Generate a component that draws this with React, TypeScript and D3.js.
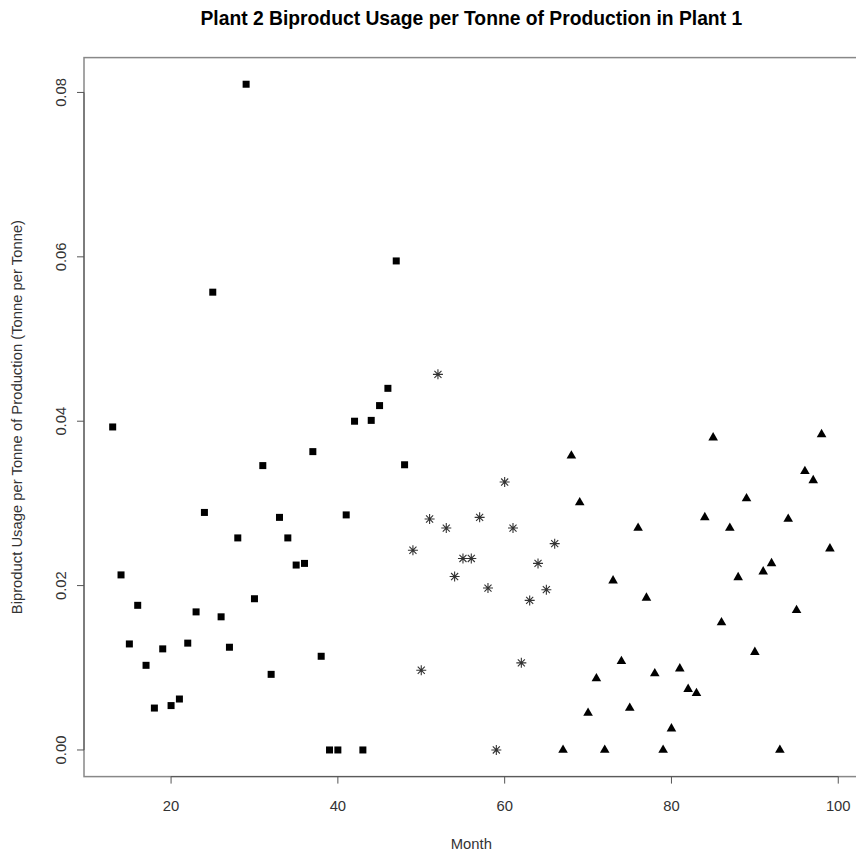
import React, { useEffect, useRef } from 'react';
import * as d3 from 'd3';

// months 13-48: squares
const squareMonths = d3.range(13, 49);
const squareValues = [
  0.0393, 0.0213, 0.0129, 0.0176, 0.0103, 0.0051, 0.0123, 0.0054, 0.0062, 0.013,
  0.0168, 0.0289, 0.0557, 0.0162, 0.0125, 0.0258, 0.081, 0.0184, 0.0346, 0.0092,
  0.0283, 0.0258, 0.0225, 0.0227, 0.0363, 0.0114, 0, 0, 0.0286, 0.04,
  0, 0.0401, 0.0419, 0.044, 0.0595, 0.0347,
];

// months 49-66: asterisks
const starMonths = d3.range(49, 67);
const starValues = [
  0.0243, 0.0097, 0.0281, 0.0457, 0.027, 0.0211, 0.0233, 0.0233, 0.0283, 0.0197,
  0, 0.0326, 0.027, 0.0106, 0.0182, 0.0227, 0.0195, 0.0251,
];

// months 67-99: triangles
const triangleMonths = d3.range(67, 100);
const triangleValues = [
  0, 0.0358, 0.0301, 0.0045, 0.0087, 0, 0.0206, 0.0108, 0.0051, 0.027,
  0.0185, 0.0093, 0, 0.0026, 0.0099, 0.0074, 0.0069, 0.0283, 0.038, 0.0155,
  0.027, 0.021, 0.0306, 0.0119, 0.0217, 0.0227, 0, 0.0281, 0.017, 0.0339,
  0.0328, 0.0384, 0.0245,
];

const xTicks = [20, 40, 60, 80, 100];
const yTicks = [0, 0.02, 0.04, 0.06, 0.08];

const title = 'Plant 2 Biproduct Usage per Tonne of Production in Plant 1';
const xLabel = 'Month';
const yLabel = 'Biproduct Usage per Tonne of Production (Tonne per Tonne)';

interface Point {
  month: number;
  value: number;
}

const zip = (m: number[], v: number[]): Point[] =>
  m.map((month, i) => ({ month, value: v[i] }));

export default function App() {
  const ref = useRef<SVGSVGElement>(null);

  useEffect(() => {
    const width = 856;
    const height = 857;
    const margin = { top: 57.6, right: -2.6, bottom: 80.4, left: 84 };

    const svg = d3.select(ref.current);
    svg.selectAll('*').remove();

    const squares = zip(squareMonths, squareValues);
    const stars = zip(starMonths, starValues);
    const triangles = zip(triangleMonths, triangleValues);
    const all = [...squares, ...stars, ...triangles];

    // R style 4% padding
    const [xMin, xMax] = d3.extent(all, (d) => d.month) as [number, number];
    const [yMin, yMax] = d3.extent(all, (d) => d.value) as [number, number];
    const xPad = (xMax - xMin) * 0.04;
    const yPad = (yMax - yMin) * 0.04;

    const xScale = d3
      .scaleLinear()
      .domain([xMin - xPad, xMax + xPad])
      .range([margin.left, width - margin.right]);
    const yScale = d3
      .scaleLinear()
      .domain([yMin - yPad, yMax + yPad])
      .range([height - margin.bottom, margin.top]);

    const font = '"Liberation Sans", Arial, Helvetica, sans-serif';
    const labelSize = 14.8;

    // title
    svg
      .append('text')
      .attr('x', (margin.left + width - margin.right) / 2)
      .attr('y', 25)
      .attr('text-anchor', 'middle')
      .attr('font-family', font)
      .attr('font-weight', 'bold')
      .attr('font-size', 19.3)
      .attr('fill', '#000')
      .text(title);

    // box
    svg
      .append('rect')
      .attr('x', margin.left)
      .attr('y', margin.top)
      .attr('width', width - margin.right - margin.left)
      .attr('height', height - margin.bottom - margin.top)
      .attr('fill', 'none')
      .attr('stroke', '#888')
      .attr('stroke-width', 1.5);

    const axisColor = '#555';
    const bottom = height - margin.bottom;

    // x axis
    const xAxis = svg.append('g');
    xAxis
      .append('line')
      .attr('x1', xScale(xTicks[0]))
      .attr('x2', xScale(xTicks[xTicks.length - 1]))
      .attr('y1', bottom)
      .attr('y2', bottom)
      .attr('stroke', axisColor);
    xAxis
      .selectAll('line.tick')
      .data(xTicks)
      .enter()
      .append('line')
      .attr('class', 'tick')
      .attr('x1', (d) => xScale(d))
      .attr('x2', (d) => xScale(d))
      .attr('y1', bottom)
      .attr('y2', bottom + 7)
      .attr('stroke', axisColor);
    xAxis
      .selectAll('text')
      .data(xTicks)
      .enter()
      .append('text')
      .attr('x', (d) => xScale(d))
      .attr('y', bottom + 34)
      .attr('text-anchor', 'middle')
      .attr('font-family', font)
      .attr('font-size', labelSize)
      .attr('fill', '#333')
      .text((d) => d);

    // y axis
    const left = margin.left;
    const yAxis = svg.append('g');
    yAxis
      .append('line')
      .attr('x1', left)
      .attr('x2', left)
      .attr('y1', yScale(yTicks[0]))
      .attr('y2', yScale(yTicks[yTicks.length - 1]))
      .attr('stroke', axisColor);
    yAxis
      .selectAll('line.tick')
      .data(yTicks)
      .enter()
      .append('line')
      .attr('class', 'tick')
      .attr('x1', left - 7)
      .attr('x2', left)
      .attr('y1', (d) => yScale(d))
      .attr('y2', (d) => yScale(d))
      .attr('stroke', axisColor);
    yAxis
      .selectAll('text')
      .data(yTicks)
      .enter()
      .append('text')
      .attr(
        'transform',
        (d) => `translate(${left - 18.5}, ${yScale(d)}) rotate(-90)`
      )
      .attr('text-anchor', 'middle')
      .attr('font-family', font)
      .attr('font-size', labelSize)
      .attr('fill', '#333')
      .text((d) => d3.format('.2f')(d));

    // axis labels
    svg
      .append('text')
      .attr('x', (margin.left + width - margin.right) / 2)
      .attr('y', bottom + 72)
      .attr('text-anchor', 'middle')
      .attr('font-family', font)
      .attr('font-size', labelSize)
      .attr('fill', '#333')
      .text(xLabel);
    svg
      .append('text')
      .attr(
        'transform',
        `translate(22, ${(margin.top + bottom) / 2}) rotate(-90)`
      )
      .attr('text-anchor', 'middle')
      .attr('font-family', font)
      .attr('font-size', labelSize)
      .attr('fill', '#333')
      .text(yLabel);

    // squares
    const sq = 7;
    svg
      .append('g')
      .selectAll('rect')
      .data(squares)
      .enter()
      .append('rect')
      .attr('x', (d) => xScale(d.month) - sq / 2)
      .attr('y', (d) => yScale(d.value) - sq / 2)
      .attr('width', sq)
      .attr('height', sq)
      .attr('fill', '#000');

    // asterisks
    const r = 5;
    const starPath = [0, 45, 90, 135]
      .map((a) => {
        const rad = (a * Math.PI) / 180;
        const dx = r * Math.cos(rad);
        const dy = r * Math.sin(rad);
        return `M${-dx},${-dy}L${dx},${dy}`;
      })
      .join('');
    svg
      .append('g')
      .selectAll('path')
      .data(stars)
      .enter()
      .append('path')
      .attr('d', starPath)
      .attr(
        'transform',
        (d) => `translate(${xScale(d.month)}, ${yScale(d.value)})`
      )
      .attr('stroke', '#333')
      .attr('stroke-width', 1.1)
      .attr('fill', 'none');

    // triangles
    const tri = d3.symbol(d3.symbolTriangle, 40)();
    svg
      .append('g')
      .selectAll('path')
      .data(triangles)
      .enter()
      .append('path')
      .attr('d', tri)
      .attr(
        'transform',
        (d) => `translate(${xScale(d.month)}, ${yScale(d.value)})`
      )
      .attr('fill', '#000');
  }, []);

  return (
    <svg
      ref={ref}
      width={856}
      height={857}
      style={{ position: 'absolute', left: 0, top: 0, background: '#fff' }}
    />
  );
}
